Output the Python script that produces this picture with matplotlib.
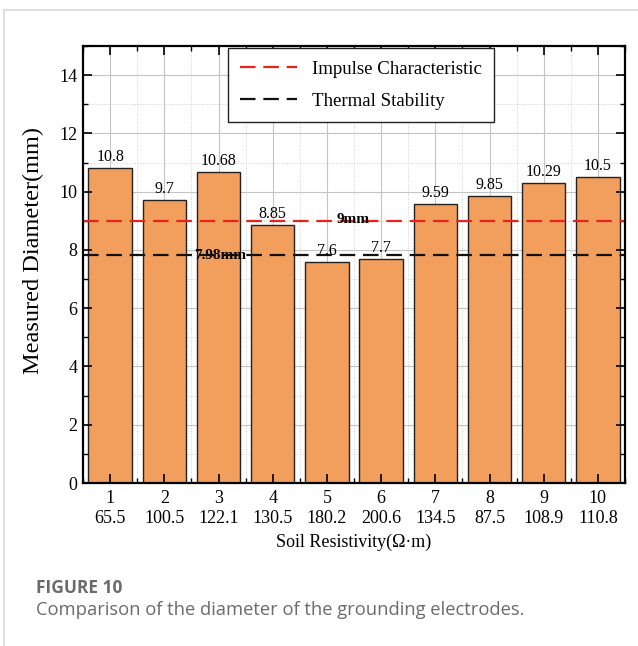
import matplotlib
matplotlib.use("Agg")
import matplotlib.pyplot as plt
from matplotlib.lines import Line2D
from matplotlib.ticker import MultipleLocator, FixedLocator

sample_no = [1, 2, 3, 4, 5, 6, 7, 8, 9, 10]
resistivity = ["65.5", "100.5", "122.1", "130.5", "180.2", "200.6", "134.5", "87.5", "108.9", "110.8"]
diameter = [10.8, 9.7, 10.68, 8.85, 7.6, 7.7, 9.59, 9.85, 10.29, 10.5]
bar_labels = ["10.8", "9.7", "10.68", "8.85", "7.6", "7.7", "9.59", "9.85", "10.29", "10.5"]
impulse_limit = 9.0
thermal_limit = 7.82

SERIF = ["Liberation Serif", "DejaVu Serif"]
SANS = ["Open Sans", "DejaVu Sans"]
ORANGE = "#F29E5C"
RED = "#E8231B"
DASH = (0, (7, 3.5))

plt.rcParams["font.family"] = SERIF

fig = plt.figure(figsize=(6.38, 6.46), dpi=100)
ax = fig.add_axes([83 / 638, 1 - 483 / 646, 542 / 638, 437 / 646])

ax.set_xlim(0.5, 10.5)
ax.set_ylim(0, 15)

# grid drawn by hand so it stays behind the bars while ticks stay on top
for x in range(1, 11):
    ax.axvline(x, color="#c4c4c4", lw=0.8, zorder=0)
    ax.axvline(x + 0.5, color="#d0d0d0", lw=0.7, ls=":", zorder=0)
for y in range(2, 15, 2):
    ax.axhline(y, color="#c4c4c4", lw=0.8, zorder=0)
    ax.axhline(y - 1, color="#d0d0d0", lw=0.7, ls=":", zorder=0)

ax.bar(sample_no, diameter, width=0.8, color=ORANGE, edgecolor="#222222",
       linewidth=1.0, zorder=2)
for x, v, s in zip(sample_no, diameter, bar_labels):
    ax.text(x, v + 0.1, s, ha="center", va="bottom", fontsize=11.5, zorder=4)

ax.axhline(impulse_limit, color=RED, lw=1.6, ls=DASH, zorder=3)
ax.axhline(thermal_limit, color="#111111", lw=1.6, ls=DASH, zorder=3)
ax.text(5.48, impulse_limit + 0.05, "9mm", ha="center", va="center",
        fontsize=11, weight="bold", zorder=3.5)
ax.text(3.03, thermal_limit, "7.98mm", ha="center", va="center", fontsize=11,
        weight="bold", zorder=2.5)

ax.set_xticks(sample_no)
ax.set_xticklabels([f"{n}\n{r}" for n, r in zip(sample_no, resistivity)],
                   fontsize=13, linespacing=1.2)
ax.xaxis.set_minor_locator(FixedLocator([x + 0.5 for x in range(0, 11)]))
ax.yaxis.set_major_locator(MultipleLocator(2))
ax.yaxis.set_minor_locator(MultipleLocator(1))
ax.tick_params(axis="both", which="major", direction="in", length=6.7, width=1.2,
               top=True, right=True, labelsize=13, pad=5)
ax.tick_params(axis="y", which="major", pad=4)
ax.tick_params(axis="both", which="minor", direction="in", length=3.6, width=1.0,
               top=True, right=True)
ax.set_axisbelow(False)
for sp in ax.spines.values():
    sp.set_linewidth(1.6)
    sp.set_zorder(5)

ax.set_ylabel("Measured Diameter(mm)", fontsize=17.5)
ax.yaxis.set_label_coords(-0.071, 0.533)
ax.set_xlabel("Soil Resistivity(Ω·m)", fontsize=13, labelpad=5)

handles = [Line2D([], [], color=RED, lw=1.6, ls=DASH),
           Line2D([], [], color="#111111", lw=1.6, ls=DASH)]
leg = ax.legend(handles, ["Impulse Characteristic", "Thermal Stability"],
                loc="upper left", bbox_to_anchor=(0.267, 0.995), fontsize=13.6,
                handlelength=3.0, handletextpad=0.8, borderpad=0.65,
                borderaxespad=0, labelspacing=0.8, fancybox=False,
                framealpha=1, edgecolor="#222222")
leg.get_frame().set_linewidth(1.0)
leg.set_zorder(6)

# journal card frame and caption
fig.add_artist(Line2D([4 / 638, 1], [1 - 10 / 646, 1 - 10 / 646],
                      color="#d9d9d9", lw=1.2, transform=fig.transFigure))
fig.add_artist(Line2D([4 / 638, 4 / 638], [0, 1 - 10 / 646],
                      color="#d9d9d9", lw=1.2, transform=fig.transFigure))
fig.text(36 / 638, 1 - 588 / 646, "FIGURE 10", fontsize=12.5, weight="bold",
         color="#6b6b6b", family=SANS, va="center")
fig.text(36 / 638, 1 - 610 / 646,
         "Comparison of the diameter of the grounding electrodes.",
         fontsize=13.2, color="#6b6b6b", family=SANS, va="center")

fig.savefig("out.png", dpi=100)
